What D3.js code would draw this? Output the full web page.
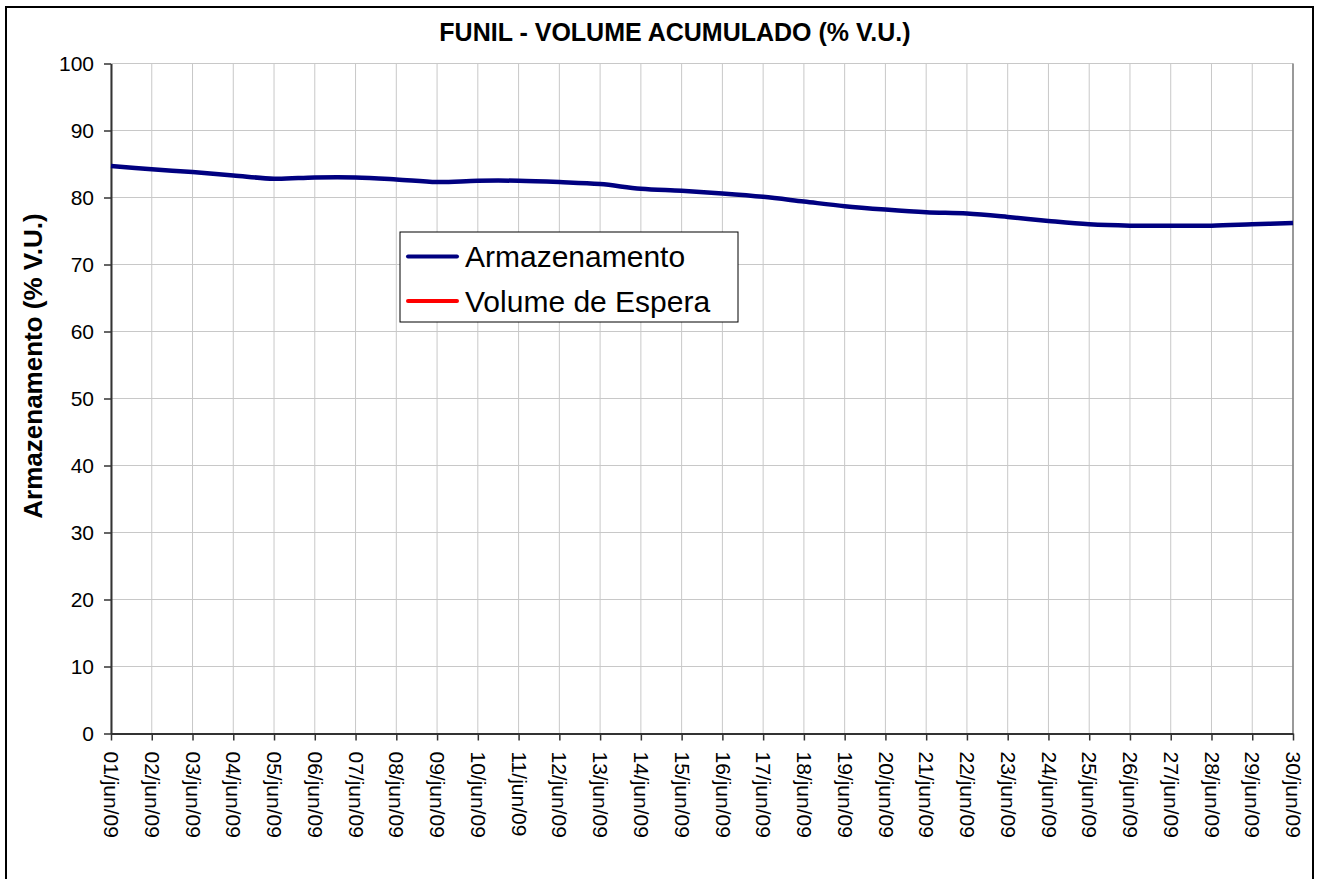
<!DOCTYPE html>
<html>
<head>
<meta charset="utf-8">
<script src="https://cdn.jsdelivr.net/npm/d3@7"></script>
<style>
  body { margin: 0; background: #fff; }
  svg { display: block; font-family: "Liberation Sans", Arial, sans-serif; }
</style>
</head>
<body>
<svg id="chart" width="1320" height="879"></svg>
<script>
// dias de junho/2009
const dates = ["01/jun/09","02/jun/09","03/jun/09","04/jun/09","05/jun/09","06/jun/09","07/jun/09","08/jun/09","09/jun/09","10/jun/09",
               "11/jun/09","12/jun/09","13/jun/09","14/jun/09","15/jun/09","16/jun/09","17/jun/09","18/jun/09","19/jun/09","20/jun/09",
               "21/jun/09","22/jun/09","23/jun/09","24/jun/09","25/jun/09","26/jun/09","27/jun/09","28/jun/09","29/jun/09","30/jun/09"];
// armazenamento (% V.U.)
const armazenamento = [84.7, 84.2, 83.8, 83.3, 82.8, 83.0, 83.0, 82.7, 82.3, 82.5,
                       82.5, 82.3, 82.0, 81.3, 81.0, 80.6, 80.1, 79.4, 78.7, 78.2,
                       77.8, 77.6, 77.1, 76.5, 76.0, 75.8, 75.8, 75.8, 76.0, 76.2];
// volume de espera - sem valores no periodo
const volumeEspera = [];
const yTicks = [0, 10, 20, 30, 40, 50, 60, 70, 80, 90, 100];
const legendItems = [
    {name: "Armazenamento", color: "#000080"},
    {name: "Volume de Espera", color: "#ff0000"}
];

const svg = d3.select("#chart");
const plotLeft = 111, plotRight = 1293, plotTop = 63.5, plotBottom = 733.5;

const x = d3.scalePoint().domain(dates).range([plotLeft, plotRight]);
const y = d3.scaleLinear().domain([0, 100]).range([plotBottom, plotTop]);

// moldura externa
svg.append("rect")
    .attr("x", 6).attr("y", 7)
    .attr("width", 1307).attr("height", 900)
    .attr("fill", "none").attr("stroke", "#000").attr("stroke-width", 2);

// titulo
svg.append("text")
    .attr("x", 675).attr("y", 41)
    .attr("text-anchor", "middle")
    .attr("font-size", "25px").attr("font-weight", "bold")
    .text("FUNIL - VOLUME ACUMULADO (% V.U.)");

// grade
svg.append("g").selectAll("line").data(dates).join("line")
    .attr("x1", d => x(d)).attr("x2", d => x(d))
    .attr("y1", plotTop).attr("y2", plotBottom)
    .attr("stroke", "#c8c8c8").attr("stroke-width", 1);
svg.append("g").selectAll("line").data(yTicks).join("line")
    .attr("x1", plotLeft).attr("x2", plotRight)
    .attr("y1", d => y(d)).attr("y2", d => y(d))
    .attr("stroke", "#c8c8c8").attr("stroke-width", 1);

// borda direita da area do grafico
svg.append("line")
    .attr("x1", plotRight).attr("x2", plotRight).attr("y1", plotTop).attr("y2", plotBottom)
    .attr("stroke", "#808080").attr("stroke-width", 1.5);

// eixo Y
const yAxis = svg.append("g")
    .attr("transform", `translate(${plotLeft},0)`)
    .call(d3.axisLeft(y).tickValues(yTicks).tickSize(7).tickSizeOuter(0).tickPadding(10));
yAxis.select(".domain").attr("stroke", "#333").attr("stroke-width", 2);
yAxis.selectAll(".tick line").attr("stroke", "#333").attr("stroke-width", 1.5);
yAxis.selectAll(".tick text")
    .attr("font-size", "21px").attr("fill", "#000")
    .attr("font-family", "Liberation Sans, Arial, sans-serif");

// eixo X
const xAxis = svg.append("g")
    .attr("transform", `translate(0,${plotBottom})`)
    .call(d3.axisBottom(x).tickSize(7).tickSizeOuter(0));
xAxis.select(".domain").attr("stroke", "#333").attr("stroke-width", 2);
xAxis.selectAll(".tick line").attr("stroke", "#333").attr("stroke-width", 1.5);
xAxis.selectAll(".tick text")
    .attr("font-size", "21px").attr("fill", "#000")
    .attr("font-family", "Liberation Sans, Arial, sans-serif")
    .attr("text-anchor", "start")
    .attr("transform", "rotate(90)")
    .attr("x", 18).attr("y", 0).attr("dy", "0.35em");

// titulo do eixo Y
svg.append("text")
    .attr("transform", "translate(42,366) rotate(-90)")
    .attr("text-anchor", "middle")
    .attr("font-size", "26px").attr("font-weight", "bold")
    .text("Armazenamento (% V.U.)");

// linhas
const line = d3.line()
    .x((d, i) => x(dates[i]))
    .y(d => y(d))
    .curve(d3.curveCatmullRom.alpha(0.5));

svg.append("path")
    .attr("d", line(armazenamento))
    .attr("fill", "none")
    .attr("stroke", "#000080")
    .attr("stroke-width", 4.5);

if (volumeEspera.length) {
    svg.append("path")
        .attr("d", line(volumeEspera))
        .attr("fill", "none")
        .attr("stroke", "#ff0000")
        .attr("stroke-width", 4.5);
}

// legenda
const legend = svg.append("g").attr("transform", "translate(400,232)");
legend.append("rect")
    .attr("width", 338).attr("height", 90)
    .attr("fill", "#fff").attr("stroke", "#000").attr("stroke-width", 1);
const item = legend.selectAll("g").data(legendItems).join("g")
    .attr("transform", (d, i) => `translate(0,${24.5 + i * 44.5})`);
item.append("line")
    .attr("x1", 8).attr("x2", 57)
    .attr("stroke", d => d.color).attr("stroke-width", 4)
    .attr("stroke-linecap", "round");
item.append("text")
    .attr("x", 65).attr("y", 10.5)
    .attr("font-size", "30px")
    .text(d => d.name);
</script>
</body>
</html>
